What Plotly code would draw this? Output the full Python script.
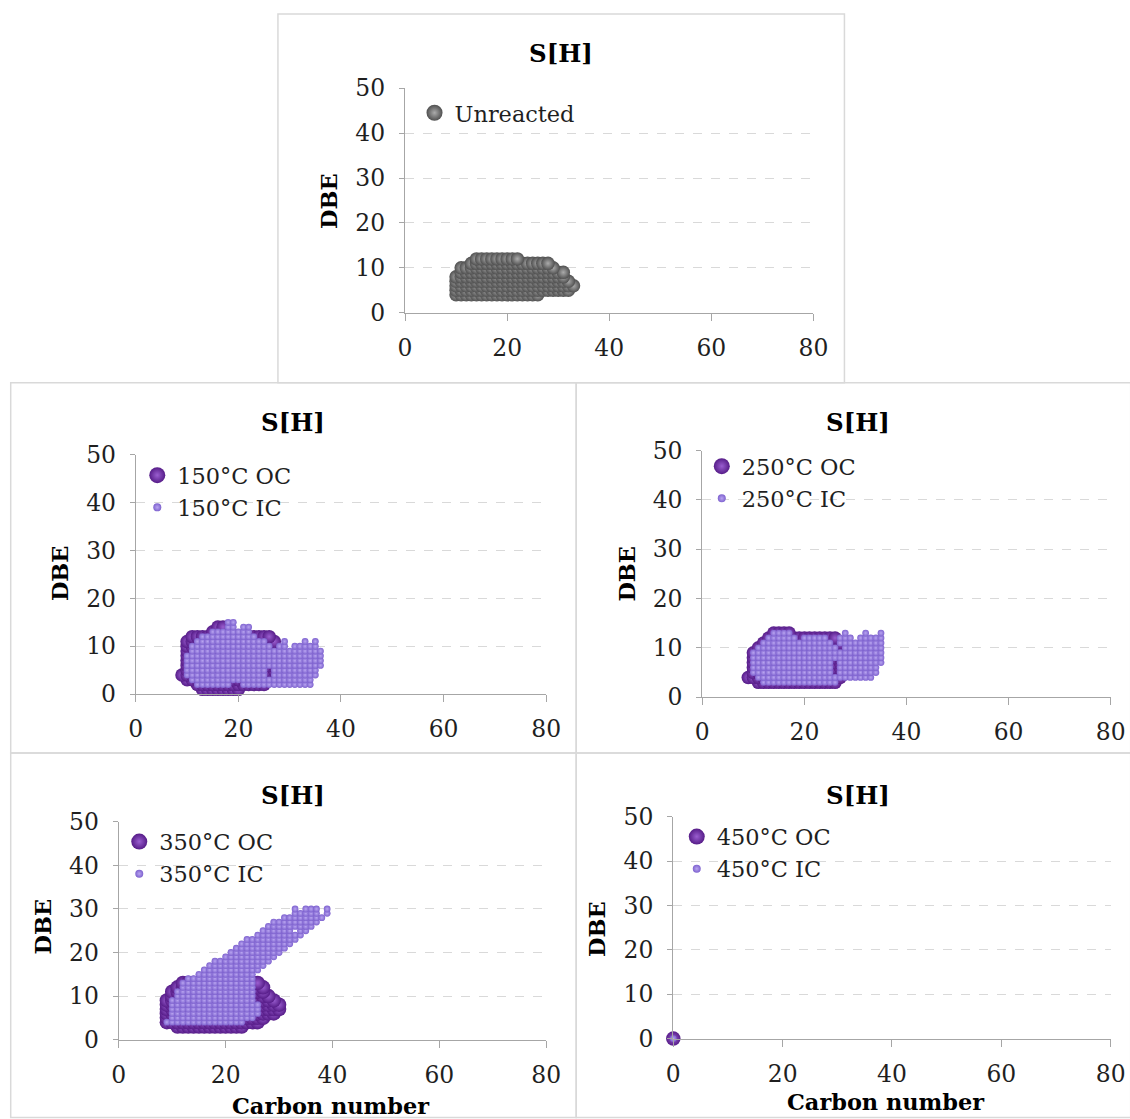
import plotly.graph_objects as go

# ---------------- data ----------------
TITLE = "S[H]"
X_TICKS = [0, 20, 40, 60, 80]
Y_TICKS = [0, 10, 20, 30, 40, 50]
X_TITLE = "Carbon number"
Y_TITLE = "DBE"

# each row: (DBE, [(carbon_from, carbon_to), ...])  -> one point per integer carbon number
UNREACTED_LABEL = "Unreacted"
UNREACTED_ROWS = [
    (4, [(10, 26)]),
    (5, [(10, 32)]),
    (6, [(10, 33)]),
    (7, [(10, 32)]),
    (8, [(10, 31)]),
    (9, [(11, 31)]),
    (10, [(11, 29)]),
    (11, [(13, 28)]),
    (12, [(14, 22)]),
]

OC150_LABEL = "150°C OC"
IC150_LABEL = "150°C IC"
OC150_ROWS = [
    (1, [(13, 20)]),
    (2, [(12, 25)]),
    (3, [(10, 27)]),
    (4, [(9, 28)]),
    (5, [(10, 28)]),
    (6, [(10, 28)]),
    (7, [(10, 28)]),
    (8, [(10, 28)]),
    (9, [(10, 28)]),
    (10, [(10, 27)]),
    (11, [(10, 27)]),
    (12, [(11, 26)]),
    (13, [(15, 18)]),
    (14, [(16, 17)]),
]
IC150_ROWS = [
    (2, [(12, 18), (21, 34)]),
    (3, [(11, 34)]),
    (4, [(10, 25), (27, 35)]),
    (5, [(10, 25), (27, 35)]),
    (6, [(10, 36)]),
    (7, [(10, 36)]),
    (8, [(10, 36)]),
    (9, [(11, 36)]),
    (10, [(11, 26), (28, 29), (31, 35)]),
    (11, [(12, 25), (29, 29), (33, 33), (35, 35)]),
    (12, [(13, 23)]),
    (13, [(15, 22)]),
    (14, [(18, 19), (21, 22)]),
    (15, [(18, 19)]),
]

OC250_LABEL = "250°C OC"
IC250_LABEL = "250°C IC"
OC250_ROWS = [
    (3, [(11, 26)]),
    (4, [(9, 27)]),
    (5, [(10, 27)]),
    (6, [(10, 27)]),
    (7, [(10, 27)]),
    (8, [(10, 27)]),
    (9, [(10, 27)]),
    (10, [(11, 27)]),
    (11, [(12, 27)]),
    (12, [(13, 26)]),
    (13, [(14, 17)]),
]
IC250_ROWS = [
    (3, [(12, 26)]),
    (4, [(11, 33)]),
    (5, [(10, 25), (27, 34)]),
    (6, [(10, 25), (27, 34)]),
    (7, [(10, 25), (27, 35)]),
    (8, [(10, 35)]),
    (9, [(10, 35)]),
    (10, [(11, 26), (28, 35)]),
    (11, [(12, 25), (27, 35)]),
    (12, [(13, 18), (20, 24), (27, 29), (31, 35)]),
    (13, [(14, 17), (28, 28), (32, 32), (35, 35)]),
]

OC350_LABEL = "350°C OC"
IC350_LABEL = "350°C IC"
OC350_ROWS = [
    (3, [(11, 23)]),
    (4, [(9, 26)]),
    (5, [(9, 27)]),
    (6, [(9, 29)]),
    (7, [(9, 30)]),
    (8, [(9, 30)]),
    (9, [(9, 29)]),
    (10, [(10, 28)]),
    (11, [(10, 27)]),
    (12, [(11, 14), (24, 27)]),
    (13, [(12, 14), (25, 26)]),
]
IC350_ROWS = [
    (4, [(9, 23)]),
    (5, [(10, 25)]),
    (6, [(10, 26)]),
    (7, [(10, 26)]),
    (8, [(10, 26)]),
    (9, [(10, 25)]),
    (10, [(11, 25)]),
    (11, [(11, 25)]),
    (12, [(12, 25)]),
    (13, [(12, 25)]),
    (14, [(13, 25)]),
    (15, [(15, 25)]),
    (16, [(16, 26)]),
    (17, [(17, 27)]),
    (18, [(18, 28)]),
    (19, [(20, 29)]),
    (20, [(21, 30)]),
    (21, [(22, 31)]),
    (22, [(23, 32)]),
    (23, [(24, 33)]),
    (24, [(26, 34)]),
    (25, [(27, 32), (34, 35)]),
    (26, [(28, 36)]),
    (27, [(29, 37)]),
    (28, [(31, 38)]),
    (29, [(33, 37), (39, 39)]),
    (30, [(33, 33), (35, 37), (39, 39)]),
]

OC450_LABEL = "450°C OC"
IC450_LABEL = "450°C IC"
OC450_ROWS = [(0, [(0, 0)])]
IC450_ROWS = [(0, [(0, 0)])]


def expand(rows):
    xs, ys = [], []
    for dbe, segs in rows:
        for a, b in segs:
            for c in range(a, b + 1):
                xs.append(c)
                ys.append(dbe)
    return xs, ys


# ---------------- styling ----------------
# The photographed page shows the figure offset and slightly reduced
# (picture ~= offset + scale * figure px); positions below are given in
# picture pixels and converted back to figure pixels.
W, H = 1150, 1136
SX, OX = 0.980, 6.3
SY, OY = 0.977, 12.7
FS = 1.0 / SX  # font compensation

SERIF = "DejaVu Serif"
TXT = "#1f1f1f"
AX = "#a6a6a6"
GRID = "#d9d9d9"

GRAY = dict(color="#505050", gradient=dict(type="radial", color="#ababab"))
OC = dict(color="#561c88", gradient=dict(type="radial", color="#9a5ed0"))
IC = dict(color="#7e62cf", gradient=dict(type="radial", color="#b8a4f0"))


def fx(t):
    return (t - OX) / SX


def fy(t):
    return (t - OY) / SY


def px(t):
    return min(max(fx(t) / W, 0.0), 1.0)


def py(t):
    return min(max(1 - fy(t) / H, 0.0), 1.0)


def pxl(figx):
    return figx / W


def pyl(figy):
    return 1 - figy / H


# panel geometry in picture pixels
PANELS = [
    dict(plot=(404, 812, 87, 312), marker=(436, 112), title=(560, 52), ylab=(328, 200), xlab=None,
         box=(277, 12, 843, 382)),
    dict(plot=(135, 545, 454, 694), marker=(159, 475), title=(292, 422), ylab=(60, 573), xlab=None,
         box=(10, 382, 575, 753)),
    dict(plot=(701, 1109, 450, 697), marker=(723, 466), title=(857, 422), ylab=(626, 573), xlab=None,
         box=(575, 382, 1129, 753)),
    dict(plot=(118, 545, 822, 1040), marker=(141, 842), title=(292, 796), ylab=(42, 927), xlab=(330, 1107),
         box=(10, 753, 575, 1118)),
    dict(plot=(672, 1109, 817, 1039), marker=(698, 837), title=(857, 796), ylab=(596, 929), xlab=(885, 1103),
         box=(575, 753, 1129, 1118)),
]

SERIES = [
    [(UNREACTED_LABEL, UNREACTED_ROWS, GRAY, 13.5, 16)],
    [(OC150_LABEL, OC150_ROWS, OC, 13.5, 16), (IC150_LABEL, IC150_ROWS, IC, 6.8, 8)],
    [(OC250_LABEL, OC250_ROWS, OC, 13.5, 16), (IC250_LABEL, IC250_ROWS, IC, 6.8, 8)],
    [(OC350_LABEL, OC350_ROWS, OC, 14.5, 16), (IC350_LABEL, IC350_ROWS, IC, 6.8, 8)],
    [(OC450_LABEL, OC450_ROWS, OC, 14.5, 16), (IC450_LABEL, IC450_ROWS, IC, 6.8, 8)],
]

fig = go.Figure()
layout = dict(
    width=W, height=H, margin=dict(l=0, r=0, t=0, b=0), autosize=False,
    paper_bgcolor="white", plot_bgcolor="white", showlegend=True,
    annotations=[], shapes=[],
)

for i, (panel, series) in enumerate(zip(PANELS, SERIES), start=1):
    sfx = "" if i == 1 else str(i)
    xa, ya = "x" + sfx, "y" + sfx
    lg = "legend" + sfx
    x0, x1, yt, yb = panel["plot"]
    layout["xaxis" + sfx] = dict(
        domain=[px(x0), px(x1)], range=[0, 80], tickvals=X_TICKS, anchor=ya,
        showgrid=False, zeroline=False, showline=True, linecolor=AX, linewidth=1.3,
        ticks="outside", ticklen=7, tickcolor=AX, tickwidth=1.3,
        tickfont=dict(family=SERIF, size=23 * FS, color=TXT), ticklabelstandoff=7,
        fixedrange=True,
    )
    layout["yaxis" + sfx] = dict(
        domain=[py(yb), py(yt)], range=[0, 50], tickvals=Y_TICKS, anchor=xa,
        showgrid=True, gridcolor=GRID, griddash="dash", gridwidth=1,
        zeroline=False, showline=True, linecolor=AX, linewidth=1.3,
        ticks="outside", ticklen=5, tickcolor=AX, tickwidth=1.3,
        tickfont=dict(family=SERIF, size=23 * FS, color=TXT), ticklabelstandoff=9,
        fixedrange=True,
    )
    mx, my = panel["marker"]
    layout[lg] = dict(
        x=pxl(fx(mx) - 23), y=pyl(fy(my) - 22), xanchor="left", yanchor="top",
        bgcolor="rgba(0,0,0,0)", borderwidth=0,
        font=dict(family=SERIF, size=22 * FS, color=TXT),
        tracegroupgap=0, itemclick=False, itemdoubleclick=False,
    )
    for name, rows, style, size, lsize in series:
        xs, ys = expand(rows)
        fig.add_trace(go.Scatter(
            x=xs, y=ys, mode="markers", xaxis=xa, yaxis=ya, showlegend=False,
            cliponaxis=False, hoverinfo="skip",
            marker=dict(size=size, line=dict(width=0), **style),
        ))
    for name, rows, style, size, lsize in series:
        fig.add_trace(go.Scatter(
            x=[None], y=[None], mode="markers", xaxis=xa, yaxis=ya, name=name,
            legend=lg, showlegend=True,
            marker=dict(size=lsize, line=dict(width=0), **style),
        ))
    tx, ty = panel["title"]
    layout["annotations"].append(dict(
        x=px(tx), y=py(ty), xref="paper", yref="paper", text="<b>" + TITLE + "</b>",
        showarrow=False, font=dict(family=SERIF, size=24 * FS, color="black"),
        xanchor="center", yanchor="middle"))
    yx, yy = panel["ylab"]
    layout["annotations"].append(dict(
        x=px(yx), y=py(yy), xref="paper", yref="paper", text="<b>" + Y_TITLE + "</b>",
        showarrow=False, textangle=-90, font=dict(family=SERIF, size=22 * FS, color="black"),
        xanchor="center", yanchor="middle"))
    if panel["xlab"]:
        cx, cy = panel["xlab"]
        layout["annotations"].append(dict(
            x=px(cx), y=py(cy), xref="paper", yref="paper", text="<b>" + X_TITLE + "</b>",
            showarrow=False, font=dict(family=SERIF, size=22 * FS, color="black"),
            xanchor="center", yanchor="middle"))
    bx0, by0, bx1, by1 = panel["box"]
    layout["shapes"].append(dict(
        type="rect", xref="paper", yref="paper", x0=px(bx0), x1=px(bx1), y0=py(by1), y1=py(by0),
        line=dict(color=GRID, width=1.5), fillcolor="rgba(0,0,0,0)", layer="below"))

fig.update_layout(**layout)
fig.write_html("out.html")
